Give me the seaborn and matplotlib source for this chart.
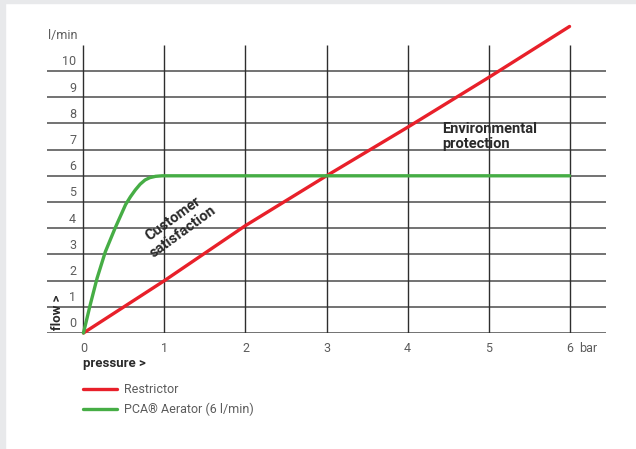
import numpy as np
import pandas as pd
import matplotlib
matplotlib.use("Agg")
import matplotlib.pyplot as plt
import seaborn as sns
from matplotlib.patches import Rectangle

# datos
presion = [0, 1, 2, 3, 4, 5, 6]
restrictor = [0, 2.0, 4.1, 6.0, 7.85, 9.75, 11.7]

presion_pca = [0, 0.083, 0.168, 0.27, 0.39, 0.52, 0.58, 0.64, 0.70, 0.76, 0.82, 0.89, 0.97, 6]
aireador = [0, 1.07, 2.09, 3.1, 4.0, 4.9, 5.2, 5.46, 5.68, 5.84, 5.93, 5.98, 6.0, 6.0]

x_ticks = [0, 1, 2, 3, 4, 5, 6]
y_ticks = [0, 1, 2, 3, 4, 5, 6, 7, 8, 9, 10]

df_r = pd.DataFrame({"p": presion, "q": restrictor})
df_a = pd.DataFrame({"p": presion_pca, "q": aireador})

sns.set_theme(style="white")
plt.rcParams["font.family"] = ["Roboto", "DejaVu Sans"]

fig = plt.figure(figsize=(6.36, 4.49), dpi=100)
ax = fig.add_axes([47 / 636, (449 - 333) / 449, (606 - 47) / 636, (333 - 18.6) / 449])
ax.set_xlim(-0.45, 6.45)
ax.set_ylim(0, 12)
ax.axis("off")

# borde gris del marco
fig.patches.append(Rectangle((0, 0), 5 / 636, 1, transform=fig.transFigure, color="#e8e9eb", zorder=0))
fig.patches.append(Rectangle((0, 1 - 3 / 449), 1, 3 / 449, transform=fig.transFigure, color="#e8e9eb", zorder=0))

# rejilla
ax.hlines(y_ticks, -0.45, 6.45, color="#5a5a5a", lw=1.2, zorder=1)
ax.vlines(x_ticks, 0, 11.0, color="#2e2e2e", lw=1.0, zorder=1)

# curvas
sns.lineplot(data=df_r, x="p", y="q", ax=ax, color="#e8202a", lw=2.4, label="Restrictor",
             zorder=3, clip_on=False)
sns.lineplot(data=df_a, x="p", y="q", ax=ax, color="#46ad45", lw=2.4, label="PCA® Aerator (6 l/min)",
             zorder=3, clip_on=False, solid_joinstyle="round")

# etiquetas de ejes
gris = "#5c5c5c"
for v in y_ticks:
    ax.text(-0.09, v + 0.35, str(v), ha="right", va="center", fontsize=9, color=gris)
for v in x_ticks:
    ax.text(v, -0.58, str(v), ha="center", va="center", fontsize=9, color=gris)
ax.text(6.12, -0.58, "bar", ha="left", va="center", fontsize=9, color=gris)
ax.text(-0.44, 11.35, "l/min", ha="left", va="center", fontsize=9, color=gris)
ax.text(0.0, -1.15, "pressure >", ha="left", va="center", fontsize=9.5, fontweight="bold", color="#2a2a2a")
ax.text(-0.32, 0.1, "flow >", ha="center", va="bottom", rotation=90, fontsize=9.5,
        fontweight="bold", color="#2a2a2a")

# anotaciones
ax.text(1.17, 4.1, "Customer\nsatisfaction", ha="center", va="center", rotation=36,
        fontsize=10.5, fontweight="bold", color="#2a2a2a", linespacing=1.15)
ax.text(4.43, 7.5, "Environmental\nprotection", ha="left", va="center",
        fontsize=10.5, fontweight="bold", color="#2a2a2a", linespacing=1.1)

leg = ax.legend(loc="upper left", bbox_to_anchor=(78 / 636, (449 - 378) / 449),
                bbox_transform=fig.transFigure, frameon=False, fontsize=9,
                handlelength=2.7, handletextpad=0.6, labelspacing=0.55, borderaxespad=0)
for t in leg.get_texts():
    t.set_color(gris)

fig.savefig("out.png", dpi=100)
